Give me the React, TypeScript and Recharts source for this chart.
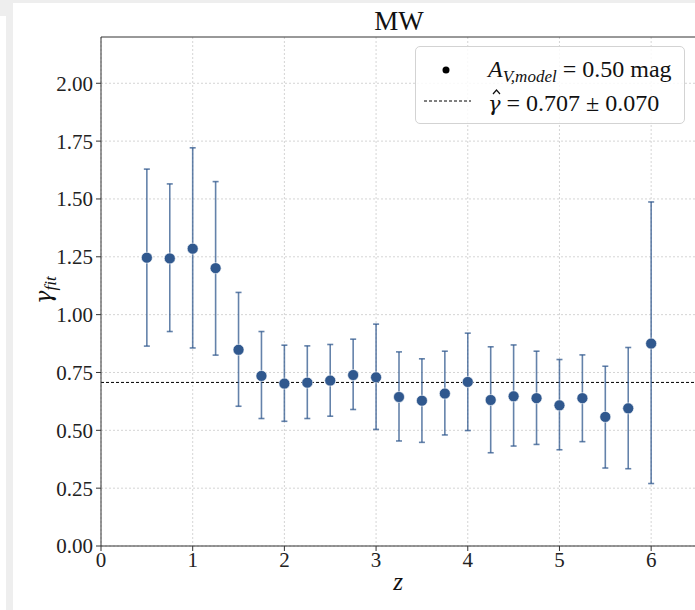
import React from 'react';
import {
  ScatterChart, Scatter, XAxis, YAxis, CartesianGrid, ErrorBar, ReferenceLine,
} from 'recharts';

const zValues = [0.5, 0.75, 1.0, 1.25, 1.5, 1.75, 2.0, 2.25, 2.5, 2.75, 3.0, 3.25, 3.5, 3.75, 4.0, 4.25, 4.5, 4.75, 5.0, 5.25, 5.5, 5.75, 6.0];
const gammaFit = [1.246, 1.243, 1.285, 1.201, 0.848, 0.735, 0.702, 0.706, 0.715, 0.739, 0.729, 0.644, 0.628, 0.659, 0.709, 0.631, 0.647, 0.639, 0.608, 0.639, 0.558, 0.595, 0.875];
const lowerBound = [0.864, 0.927, 0.856, 0.825, 0.604, 0.551, 0.539, 0.551, 0.561, 0.59, 0.504, 0.454, 0.448, 0.48, 0.499, 0.403, 0.432, 0.439, 0.416, 0.451, 0.337, 0.334, 0.27];
const upperBound = [1.629, 1.565, 1.721, 1.575, 1.096, 0.927, 0.868, 0.865, 0.871, 0.894, 0.959, 0.839, 0.809, 0.842, 0.92, 0.861, 0.869, 0.842, 0.806, 0.826, 0.777, 0.858, 1.487];
const gammaHat = 0.707;
const xTicks = [0, 1, 2, 3, 4, 5, 6];
const yTicks = [0, 0.25, 0.5, 0.75, 1.0, 1.25, 1.5, 1.75, 2.0];

const data = zValues.map((z, i) => ({
  z,
  g: gammaFit[i],
  err: [gammaFit[i] - lowerBound[i], upperBound[i] - gammaFit[i]],
}));

const FONT = '"Liberation Serif", "DejaVu Serif", serif';
const GREEK = '"DejaVu Serif", "Liberation Serif", serif';
const BLUE = '#30588e';

const Dot = (props: any) => {
  const { cx, cy } = props;
  if (cx == null || cy == null) return null;
  return <circle cx={cx} cy={cy} r={5.5} fill={BLUE} stroke="#ffffff" strokeWidth={0.6} />;
};

export default function App() {
  return (
    <div style={{ position: 'fixed', left: 0, top: 0, width: 695, height: 610, overflow: 'hidden', background: '#ffffff', fontFamily: FONT }}>
      {/* gray frame edges */}
      <div style={{ position: 'absolute', left: 13, top: 0, width: 682, height: 3, background: '#eeeeee' }} />
      <div style={{ position: 'absolute', left: 0, top: 0, width: 13, height: 16, background: '#eeeeee' }} />
      <div style={{ position: 'absolute', left: 6, top: 16, width: 7, height: 594, background: '#eeeeee' }} />

      <div style={{ position: 'absolute', left: 0, top: 0 }}>
        <ScatterChart width={720} height={610} margin={{ top: 37, right: 23, bottom: 0, left: 0 }}>
          <CartesianGrid stroke="#c9c9c9" strokeDasharray="2 2" strokeWidth={0.8} horizontalValues={yTicks} verticalValues={xTicks} />
          <XAxis
            type="number"
            dataKey="z"
            domain={[0, 6.5]}
            ticks={xTicks}
            allowDataOverflow
            height={64}
            tickSize={5}
            tickMargin={1}
            stroke="#333333"
            tick={{ fill: '#222222', fontSize: 21, fontFamily: FONT }}
          />
          <YAxis
            type="number"
            dataKey="g"
            domain={[0, 2.2]}
            ticks={yTicks}
            allowDataOverflow
            width={101}
            tickSize={5}
            tickMargin={3}
            stroke="#333333"
            tickFormatter={(v: number) => v.toFixed(2)}
            tick={{ fill: '#222222', fontSize: 21, fontFamily: FONT }}
          />
          <ReferenceLine y={2.2} stroke="#333333" strokeWidth={1} ifOverflow="visible" />
          <ReferenceLine y={gammaHat} stroke="#000000" strokeWidth={1} strokeDasharray="3 2" />
          <Scatter data={data} dataKey="g" shape={<Dot />} isAnimationActive={false}>
            <ErrorBar dataKey="err" direction="y" stroke={BLUE} strokeOpacity={0.75} strokeWidth={1.6} width={3} isAnimationActive={false} />
          </Scatter>
        </ScatterChart>
      </div>

      {/* title */}
      <div style={{ position: 'absolute', left: 299, width: 200, top: 6, textAlign: 'center', fontSize: 27, color: '#111', lineHeight: '30px' }}>MW</div>

      {/* x label */}
      <div style={{ position: 'absolute', left: 378, width: 40, top: 568, textAlign: 'center', fontSize: 25, fontStyle: 'italic', color: '#111', lineHeight: '28px' }}>z</div>

      {/* y label */}
      <div style={{ position: 'absolute', left: 45, top: 290, transform: 'translate(-50%, -50%) rotate(-90deg)', whiteSpace: 'nowrap', color: '#111', lineHeight: '28px' }}>
        <span style={{ fontSize: 22, fontStyle: 'italic', fontFamily: GREEK, fontWeight: 300 }}>γ</span>
        <span style={{ fontSize: 17, fontStyle: 'italic', position: 'relative', top: 5 }}>fit</span>
      </div>

      {/* legend */}
      <div style={{ position: 'absolute', left: 415, top: 46, width: 268, height: 76, border: '1px solid #d3d3d3', borderRadius: 5, background: 'rgba(255,255,255,0.85)', color: '#111' }}>
        <svg width={90} height={76} style={{ position: 'absolute', left: 0, top: 0 }}>
          <circle cx={30} cy={23} r={3.5} fill="#000" />
          <line x1={8} x2={55} y1={54} y2={54} stroke="#000" strokeWidth={1} strokeDasharray="3 2" />
          {/* hat accent over gamma */}
          <polyline points="77,47 80.5,43 84,47" fill="none" stroke="#111" strokeWidth={1.2} />
        </svg>
        <div style={{ position: 'absolute', left: 72, top: 8, whiteSpace: 'nowrap', fontSize: 24, lineHeight: '28px' }}>
          <span style={{ fontStyle: 'italic' }}>A</span>
          <span style={{ fontStyle: 'italic', fontSize: 17, position: 'relative', top: 5 }}>V,model</span>
          <span> = 0.50 mag</span>
        </div>
        <div style={{ position: 'absolute', left: 72, top: 42, whiteSpace: 'nowrap', fontSize: 24, lineHeight: '28px' }}>
          <span style={{ fontStyle: 'italic', fontFamily: GREEK, fontSize: 21 }}>γ</span>
          <span> = 0.707 ± 0.070</span>
        </div>
      </div>
    </div>
  );
}
